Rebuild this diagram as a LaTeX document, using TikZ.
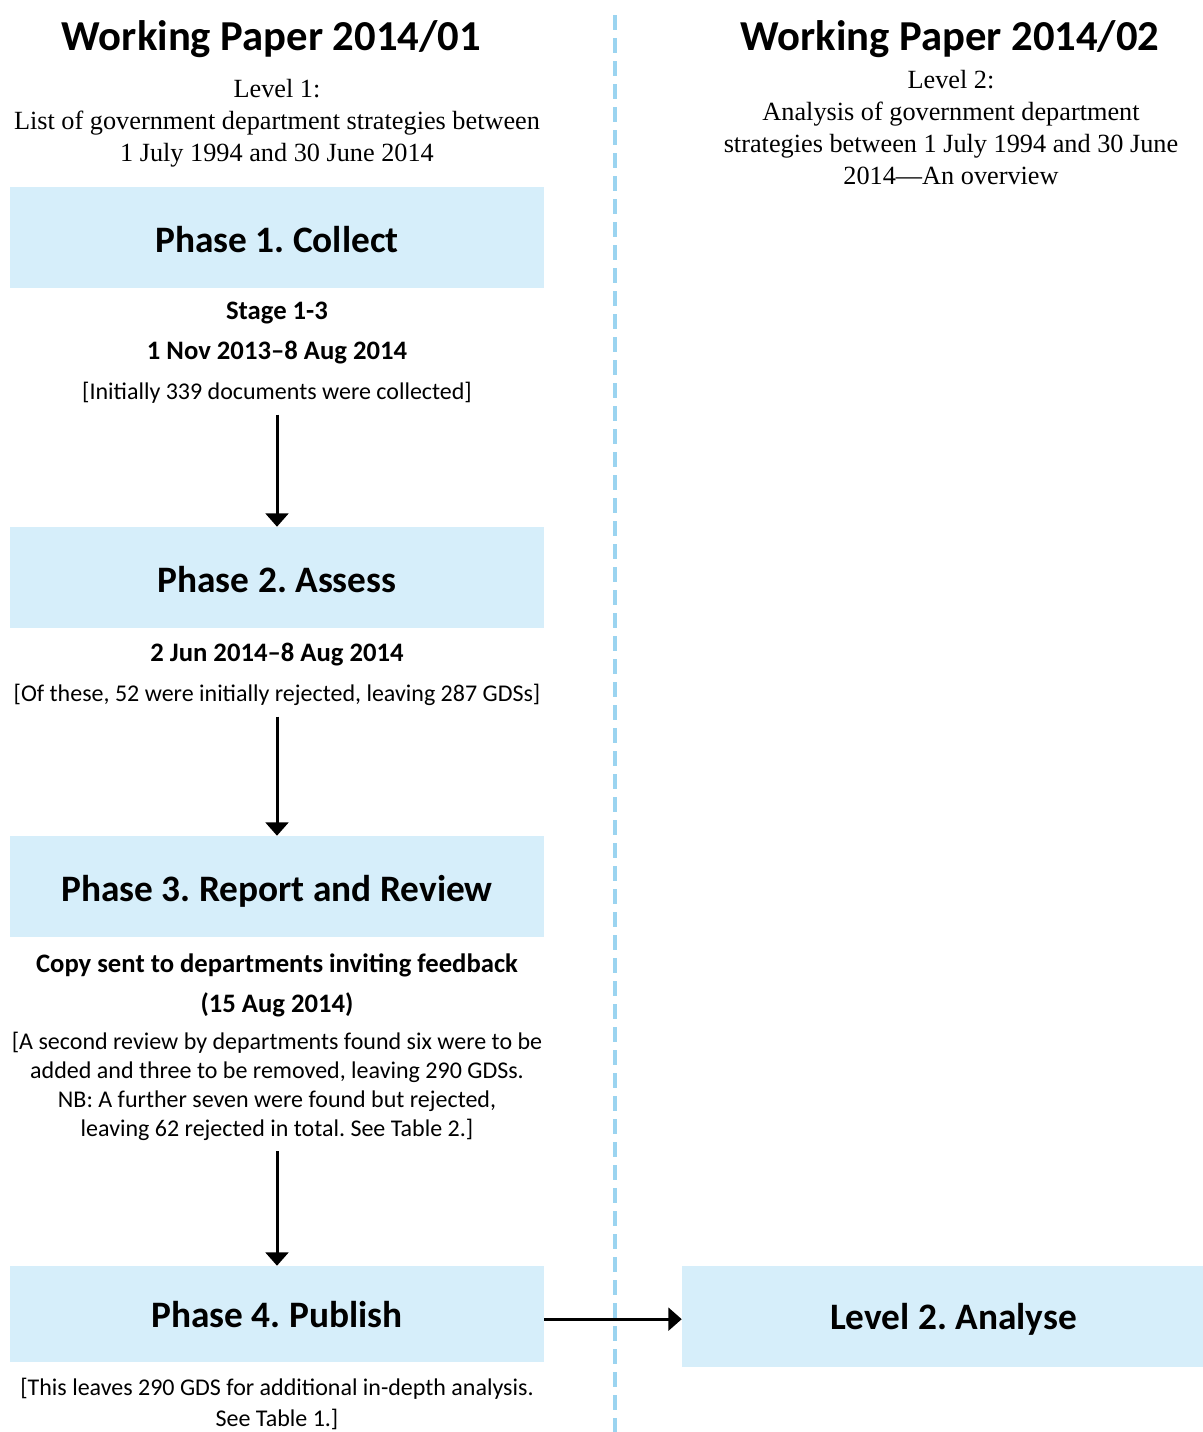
\documentclass[tikz,border=0pt]{standalone}
\usepackage{fontspec}
\setmainfont{Carlito}
\newfontfamily\serifface{Liberation Serif}
\usetikzlibrary{arrows.meta,positioning}
\frenchspacing

\definecolor{phasefill}{RGB}{214,238,250}
\definecolor{splitblue}{RGB}{155,212,240}

\tikzset{
  phasebox/.style={fill=phasefill, inner sep=0pt, minimum width=400.5pt, minimum height=75.75pt,
    text height=23pt, text depth=0pt, font=\fontsize{28}{34}\selectfont\bfseries},
  papertitle/.style={anchor=base, inner sep=0pt, font=\fontsize{32}{38}\selectfont\bfseries},
  levelnote/.style={anchor=north, inner sep=0pt, align=center, font=\fontsize{19.7}{24}\selectfont\serifface},
  phasenote/.style={anchor=north, inner sep=0pt, align=center, font=\fontsize{18}{30}\selectfont},
  flow/.style={line width=2.25pt, -{Triangle[width=17pt,length=10pt]}, shorten <=8pt},
  divider/.style={color=splitblue, line width=2.5pt, dash pattern=on 11.25pt off 6pt}
}

\begin{document}
\begin{tikzpicture}[x=0.75pt,y=0.75pt,yscale=-1]
\useasboundingbox (0,0) rectangle (1203,1432);

% Text Node
\node [papertitle] (title1) at (271.5,50) {Working Paper 2014/01};
% Text Node
\node [papertitle] (title2) at (950,50) {Working Paper 2014/02};
% Text Node
\node [levelnote] (level1note) at (277,79) {Level 1:\\List of government department strategies between\\1 July 1994 and 30 June 2014};
% Text Node
\node [levelnote] (level2note) at (951,70) {Level 2:\\Analysis of government department\\strategies between 1 July 1994 and 30 June\\2014—An overview};

%Shape: Rectangle
\node [phasebox] (phase1) at (277,237.5) {Phase 1. Collect};
% Text Node
\node [phasenote] (note1) at (277,302) {{\fontsize{20}{30}\selectfont\bfseries Stage 1-3}\\{\fontsize{20}{30}\selectfont\bfseries 1 Nov 2013–8 Aug 2014}\\{}[Initially 339 documents were collected]};

%Shape: Rectangle
\node [phasebox] (phase2) at (277,577.5) {Phase 2. Assess};
% Text Node
\node [phasenote] (note2) at (277,643) {{\fontsize{20}{30}\selectfont\bfseries 2 Jun 2014–8 Aug 2014}\\{}[Of these, 52 were initially rejected, leaving 287 GDSs]};

%Shape: Rectangle
\node [phasebox] (phase3) at (277,886.5) {Phase 3. Report and Review};
% Text Node
\node [phasenote, font=\fontsize{18}{21.75}\selectfont] (note3) at (277,953) {{\fontsize{20}{21.75}\selectfont\bfseries Copy sent to departments inviting feedback}\\[8.25pt]{\fontsize{20}{21.75}\selectfont\bfseries (15 Aug 2014)}\\[6pt]{}[A second review by departments found six were to be\\added and three to be removed, leaving 290 GDSs.\\NB: A further seven were found but rejected,\\leaving 62 rejected in total. See Table 2.]};

%Shape: Rectangle
\node [phasebox, minimum height=72pt, text height=20pt] (phase4) at (277,1314) {Phase 4. Publish};
% Text Node
\node [phasenote, font=\fontsize{18}{23.25}\selectfont] (note4) at (277,1378) {{}[This leaves 290 GDS for additional in-depth analysis.\\See Table 1.]};

%Shape: Rectangle
\node [phasebox, minimum width=407.25pt, text height=20pt] (analyse) at (953.5,1316.5) {Level 2. Analyse};

%Straight Lines
\draw [flow] (note1) -- (phase2);
\draw [flow] (note2) -- (phase3);
\draw [flow] (note3) -- (phase4);
\draw [flow, shorten <=0pt] ([yshift=2pt]phase4.east |- analyse.west) -- ([yshift=2pt]analyse.west);

%Dashed Line
\draw [divider] (615,15) -- (615,1432);

\end{tikzpicture}
\end{document}
